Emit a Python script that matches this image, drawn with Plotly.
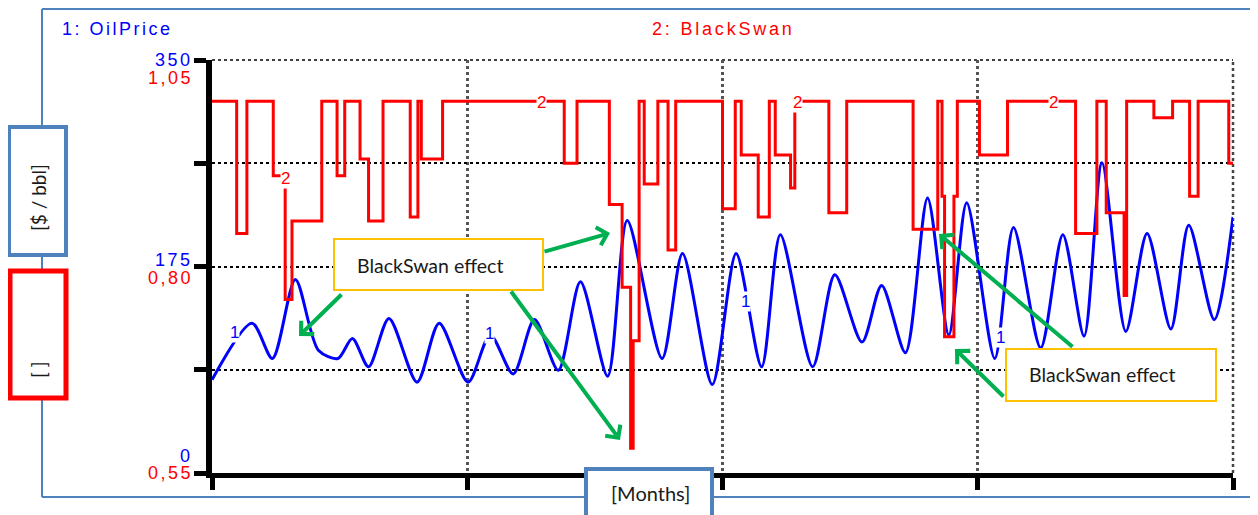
import plotly.graph_objects as go

# 1: OilPrice [$ / bbl] (peaks, troughs, shoulders)
oil_month = [0, 4.7, 7.1, 9.8, 12.5, 14.8, 16.5, 18.4, 20.8, 24.1,
             26.7, 30.1, 32.7, 35.4, 37.9, 40.7, 43.3, 46.5, 48.8, 52.9,
             55.3, 58.8, 61.6, 64.6, 66.8, 70.6, 73.2, 76.4, 78.7, 81.5,
             84.1, 86.6, 88.7, 92.0, 94.2, 97.4, 100.0, 102.5, 104.6, 107.4,
             109.9, 112.7, 114.8, 117.8, 120]
oil_price = [79, 127, 97, 164, 104, 97, 114, 90, 131, 77,
             127, 77, 117, 84, 130, 87, 162, 82, 214, 97,
             186, 75, 186, 90, 202, 90, 168, 111, 159, 102,
             233, 117, 229, 97, 208, 106, 202, 116, 263, 120,
             203, 122, 210, 130, 217]

# 2: BlackSwan [ ], value holds from each month until the next one
swan_month = [0, 2.9, 4.1, 7.2, 8.6, 9.4, 12.9, 14.7, 15.6, 17.4,
              18.4, 20.1, 23.3, 24.2, 24.6, 27.1, 41.4, 42.9, 46.7, 48.2,
              49.2, 49.5, 50.2, 50.8, 52.4, 53.6, 54.5, 60.0, 61.5, 62.2,
              64.2, 65.5, 66.2, 68.0, 68.5, 68.9, 72.5, 74.6, 82.4, 85.3,
              85.8, 86.1, 87.2, 87.6, 90.2, 93.5, 101.5, 104.0, 105.1, 107.2,
              107.5, 110.7, 112.9, 114.9, 115.9, 119.5, 120]
swan_value = [1.00, 0.84, 1.00, 0.91, 0.76, 0.855, 1.00, 0.91, 1.00, 0.93,
              0.855, 1.00, 0.86, 1.00, 0.93, 1.00, 0.925, 1.00, 0.875, 0.775,
              0.58, 0.71, 1.00, 0.90, 1.00, 0.82, 1.00, 0.87, 1.00, 0.935,
              0.86, 1.00, 0.935, 0.895, 0.99, 1.00, 0.865, 1.00, 0.845, 1.00,
              0.885, 0.715, 0.885, 1.00, 0.935, 1.00, 0.84, 1.00, 0.865, 0.765,
              1.00, 0.98, 1.00, 0.885, 1.00, 0.925, 0.925]

month_ticks = [0, 30, 60, 90, 120]
oil_ticks = [0, 87.5, 175, 262.5, 350]
oil_labels = [(0, "0"), (175, "175"), (350, "350")]
swan_labels = [(0.55, "0,55"), (0.80, "0,80"), (1.05, "1,05")]

# where the line numbers sit on the curves
label1_month = [2.6, 32.6, 62.7, 92.7]
label1_value = [119, 118, 145, 115]
label2_month = [8.6, 38.7, 68.8, 98.9]
label2_value = [0.907, 0.998, 0.998, 0.998]

BLUE = "#0000ff"
RED = "#ff0000"
FRAME = "#4f81bd"
GREEN = "#00b050"
YELLOW = "#ffc000"


# screen pixels -> paper coords (plot area on screen 212..1233 x 60..473)
def px(x):
    return (x - 212) / 1021


def py(y):
    return (473 - y) / 413


def spaced(txt, sp):
    return '<span style="letter-spacing:%spx">%s</span>' % (sp, txt)


fig = go.Figure()
fig.add_trace(go.Scatter(x=oil_month, y=oil_price, mode="lines", name="OilPrice",
                         line=dict(color=BLUE, width=3, shape="spline", smoothing=0.8)))
fig.add_trace(go.Scatter(x=swan_month, y=swan_value, mode="lines", name="BlackSwan",
                         yaxis="y2", line=dict(color=RED, width=3, shape="hv")))

shapes = []
# outer frame
for x0, y0, x1, y1 in [(42, 9, 42, 497), (42, 9, 1275, 9), (42, 497, 1275, 497)]:
    shapes.append(dict(type="line", xref="paper", yref="paper", x0=px(x0), y0=py(y0),
                       x1=px(x1), y1=py(y1), line=dict(color=FRAME, width=2), layer="below"))
# grid lines on the plot edges (plotly skips them)
shapes.append(dict(type="line", xref="paper", yref="paper", x0=0, x1=1, y0=1, y1=1,
                   line=dict(color="black", width=1.5, dash="3px,3px"), layer="below"))
shapes.append(dict(type="line", xref="paper", yref="paper", x0=1, x1=1, y0=0, y1=1,
                   line=dict(color="#444444", width=2.5, dash="dot"), layer="below"))
# unit boxes and callout boxes
for x0, y0, x1, y1, col, w in [(9, 127, 66, 255, FRAME, 4), (10, 271, 66, 398, RED, 5),
                               (586, 469, 712, 530, FRAME, 4),
                               (334, 239, 543, 290, YELLOW, 2), (1006, 349, 1216, 401, YELLOW, 2)]:
    shapes.append(dict(type="rect", xref="paper", yref="paper", x0=px(x0), y0=py(y0),
                       x1=px(x1), y1=py(y1), fillcolor="white",
                       line=dict(color=col, width=w), layer="above"))

ann = []
txt_font = dict(family="Lato", size=19, color="#1a1a1a")
ann.append(dict(text="[$ / bbl]", x=px(38), y=py(198), textangle=-90, font=txt_font))
ann.append(dict(text="[ ]", x=px(38), y=py(370), textangle=-90, font=txt_font))
ann.append(dict(text="[Months]", x=px(650), y=py(493), font=dict(family="Lato", size=20, color="#1a1a1a")))
ann.append(dict(text="BlackSwan effect", x=px(355), y=py(265), xanchor="left",
                font=dict(family="Lato", size=19.5, color="#1a1a1a")))
ann.append(dict(text="BlackSwan effect", x=px(1027), y=py(374), xanchor="left",
                font=dict(family="Lato", size=19.5, color="#1a1a1a")))
ann.append(dict(text=spaced("1: OilPrice", 2.5), x=px(60), y=py(29), xanchor="left",
                font=dict(family="Arial", size=18, color=BLUE)))
ann.append(dict(text=spaced("2: BlackSwan", 2.8), x=px(650), y=py(29), xanchor="left",
                font=dict(family="Arial", size=18, color=RED)))

for a in ann:
    a.setdefault("xanchor", "center")
    a.update(xref="paper", yref="paper", yanchor="middle", showarrow=False)

# axis numbers: blue above / red below each labelled tick
for (v, t), dy in zip(oil_labels, [17, 6.5, 0]):
    ann.append(dict(text=spaced(t, 2.5), xref="paper", yref="y", x=px(195), y=v, yshift=dy,
                    xanchor="right", yanchor="middle", showarrow=False,
                    font=dict(family="Arial", size=18, color=BLUE)))
for (v, t), dy in zip(swan_labels, [0, -11, -18]):
    ann.append(dict(text=spaced(t, 2.5), xref="paper", yref="y2", x=px(195), y=v, yshift=dy,
                    xanchor="right", yanchor="middle", showarrow=False,
                    font=dict(family="Arial", size=18, color=RED)))

# line numbers
for m, v in zip(label1_month, label1_value):
    ann.append(dict(text="1", x=m, y=v, xref="x", yref="y", showarrow=False, bgcolor="white",
                    borderpad=0, font=dict(family="Arial", size=17, color=BLUE)))
for m, v in zip(label2_month, label2_value):
    ann.append(dict(text="2", x=m, y=v, xref="x", yref="y2", showarrow=False, bgcolor="white",
                    borderpad=0, font=dict(family="Arial", size=17, color=RED)))

# green arrows: tail -> tip in screen pixels
for tx, ty, hx, hy in [(343, 293, 299, 336), (543, 252, 610, 233), (510, 290, 620, 440),
                       (1074, 348, 939, 234), (1005, 398, 955, 349)]:
    ann.append(dict(text="", xref="paper", yref="paper", x=px(hx), y=py(hy),
                    ax=tx - hx, ay=ty - hy, showarrow=True, arrowhead=4, arrowsize=0.9,
                    arrowwidth=4, arrowcolor=GREEN))

# the page body adds an 8px margin, so the figure is drawn 8px smaller
fig.update_layout(
    width=1250, height=507,
    margin=dict(l=204, r=25, t=52, b=42),
    paper_bgcolor="white", plot_bgcolor="white",
    showlegend=False,
    shapes=shapes, annotations=ann,
    xaxis=dict(range=[0, 120], tickvals=month_ticks, showticklabels=False,
               ticks="outside", ticklen=12, tickwidth=5, tickcolor="black",
               showline=True, linecolor="black", linewidth=5,
               showgrid=True, gridcolor="#555555", gridwidth=2.5, griddash="dot",
               zeroline=False),
    yaxis=dict(range=[0, 350], tickvals=oil_ticks, showticklabels=False,
               ticks="outside", ticklen=12, tickwidth=5, tickcolor="black",
               showline=True, linecolor="black", linewidth=6,
               showgrid=True, gridcolor="black", gridwidth=1.5, griddash="3px,3px",
               zeroline=False),
    yaxis2=dict(range=[0.55, 1.05], overlaying="y", side="left", showgrid=False,
                showticklabels=False, ticks="", showline=False, zeroline=False),
)

fig.write_html("out.html")
